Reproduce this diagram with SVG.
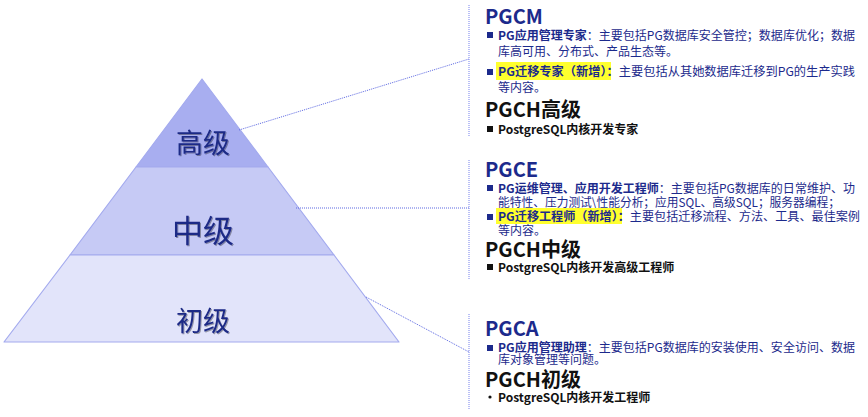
<svg xmlns="http://www.w3.org/2000/svg" width="868" height="417" viewBox="0 0 868 417">
<defs>
<style>
.tier{stroke:#A3AAEE;stroke-width:1.2;stroke-linejoin:round}
.lvl{font-family:"Noto Sans CJK SC","Noto Sans",sans-serif;fill:#1E2A86;text-anchor:middle;filter:url(#sh)}
.conn{stroke:#5C68E2;stroke-width:1;stroke-dasharray:1 1;fill:none}
.vline{stroke:#8E97F0;stroke-width:1.2;stroke-dasharray:1 1;fill:none}
.h{font-family:"Noto Sans CJK SC","Noto Sans",sans-serif;font-weight:700;font-size:20px;fill:#1C2A8C}
.hk{font-family:"Noto Sans CJK SC","Noto Sans",sans-serif;font-weight:700;font-size:20px;fill:#111}
.t{font-family:"Noto Sans CJK SC","Noto Sans",sans-serif;font-size:12px;fill:#1C2A8C}
.b{font-weight:700}
.k{font-family:"Noto Sans CJK SC","Noto Sans",sans-serif;font-size:12px;font-weight:700;fill:#111}
.sq{fill:#1C2A8C}
.sqk{fill:#111}
.hl{fill:#FFFF2E}
</style>
<filter id="sh" x="-10%" y="-10%" width="130%" height="130%">
<feDropShadow dx="1" dy="1" stdDeviation="0.6" flood-color="#000" flood-opacity="0.35"/>
</filter>
</defs>

<g id="pyramid">
<g id="tier-high">
<polygon class="tier" points="202,79 268,167 136,167" fill="#A8AEF0"/>
<text class="lvl" x="203" y="153" font-size="27">高级</text>
</g>
<g id="tier-mid">
<polygon class="tier" points="136,167 268,167 334,255 70,255" fill="#C6CAF5"/>
<text class="lvl" x="203" y="242" font-size="31">中级</text>
</g>
<g id="tier-low">
<polygon class="tier" points="70,255 334,255 399,342 4,342" fill="#E2E4FA"/>
<text class="lvl" x="203" y="331" font-size="27">初级</text>
</g>
</g>

<g id="connectors">
<line class="conn" x1="239" y1="130" x2="469" y2="59"/>
<line class="conn" x1="296" y1="208" x2="469" y2="208"/>
<line class="conn" x1="366" y1="297" x2="469" y2="352"/>
<line class="vline" x1="469" y1="5" x2="469" y2="136"/>
<line class="vline" x1="469" y1="160" x2="469" y2="279"/>
<line class="vline" x1="469" y1="314" x2="469" y2="410"/>
</g>

<g id="block-pgcm">
<text class="h" x="485" y="24">PGCM</text>
<rect class="sq" x="487" y="32" width="6" height="6"/>
<text class="t" x="498" y="40" textLength="357" lengthAdjust="spacingAndGlyphs"><tspan class="b">PG应用管理专家</tspan>：主要包括PG数据库安全管控；数据库优化；数据</text>
<text class="t" x="498" y="56">库高可用、分布式、产品生态等。</text>
<rect class="hl" x="496" y="62" width="115" height="18"/>
<rect class="sq" x="487" y="69" width="6" height="6"/>
<text class="t" x="498" y="76" textLength="357" lengthAdjust="spacingAndGlyphs"><tspan class="b">PG迁移专家（新增）：</tspan>主要包括从其她数据库迁移到PG的生产实践</text>
<text class="t" x="498" y="92">等内容。</text>
<text class="hk" x="485" y="117">PGCH高级</text>
<rect class="sqk" x="487" y="126" width="6" height="6"/>
<text class="k" x="498" y="134">PostgreSQL内核开发专家</text>
</g>

<g id="block-pgce">
<text class="h" x="485" y="177">PGCE</text>
<rect class="sq" x="487" y="185" width="6" height="6"/>
<text class="t" x="498" y="193" textLength="357" lengthAdjust="spacingAndGlyphs"><tspan class="b">PG运维管理、应用开发工程师</tspan>：主要包括PG数据库的日常维护、功</text>
<text class="t" x="498" y="207" textLength="342" lengthAdjust="spacingAndGlyphs">能特性、压力测试\性能分析；应用SQL、高级SQL；服务器编程；</text>
<rect class="hl" x="496" y="208" width="126" height="16"/>
<rect class="sq" x="487" y="214" width="6" height="6"/>
<text class="t" x="498" y="221" textLength="362" lengthAdjust="spacingAndGlyphs"><tspan class="b">PG迁移工程师（新增）：</tspan>主要包括迁移流程、方法、工具、最佳案例</text>
<text class="t" x="498" y="235">等内容。</text>
<text class="hk" x="485" y="257">PGCH中级</text>
<rect class="sqk" x="487" y="264" width="6" height="6"/>
<text class="k" x="498" y="272">PostgreSQL内核开发高级工程师</text>
</g>

<g id="block-pgca">
<text class="h" x="485" y="336">PGCA</text>
<rect class="sq" x="487" y="345" width="6" height="6"/>
<text class="t" x="498" y="352" textLength="357" lengthAdjust="spacingAndGlyphs"><tspan class="b">PG应用管理助理</tspan>：主要包括PG数据库的安装使用、安全访问、数据</text>
<text class="t" x="498" y="364">库对象管理等问题。</text>
<text class="hk" x="485" y="387">PGCH初级</text>
<circle class="sqk" cx="490" cy="397" r="1.6"/>
<text class="k" x="498" y="402">PostgreSQL内核开发工程师</text>
</g>
</svg>
